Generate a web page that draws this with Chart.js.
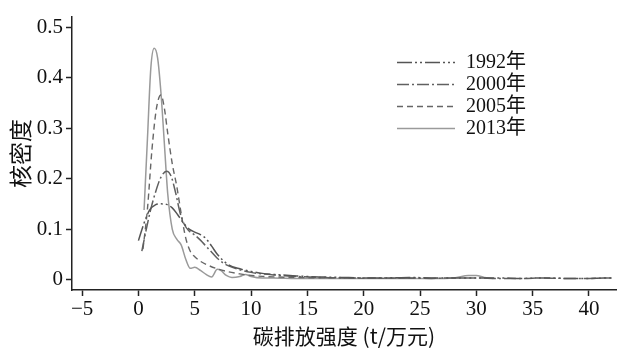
<!DOCTYPE html>
<html>
<head>
<meta charset="utf-8">
<script src="https://cdn.jsdelivr.net/npm/chart.js@4/dist/chart.umd.min.js"></script>
<style>
  html, body { margin: 0; padding: 0; background: #fff; }
  #wrap { width: 626px; height: 356px; position: relative; }
</style>
</head>
<body>
<div id="wrap"><canvas id="c" width="626" height="356"></canvas></div>
<script>
// ---- data ----
const seriesLabels = ['1992年', '2000年', '2005年', '2013年'];

const x1992 = [0, 0.5, 1, 1.5, 2, 2.5, 3, 3.5, 4, 4.5, 5, 5.5, 6, 6.5, 7, 7.5, 8, 9, 10, 11, 12, 14, 16, 18, 20, 22, 24, 26, 28, 30, 32, 34, 36, 38, 40, 42];
const y1992 = [0.077, 0.112, 0.138, 0.148, 0.150, 0.149, 0.142, 0.128, 0.112, 0.100, 0.094, 0.089, 0.081, 0.066, 0.050, 0.038, 0.029, 0.021, 0.016, 0.012, 0.010, 0.007, 0.005, 0.004, 0.003, 0.003, 0.004, 0.003, 0.003, 0.003, 0.003, 0.002, 0.003, 0.002, 0.002, 0.003];

const x2000 = [0.3, 0.7, 1.1, 1.5, 2.0, 2.5, 2.9, 3.3, 3.7, 4.1, 4.5, 5, 5.5, 6, 6.5, 7, 7.5, 8, 9, 10, 11, 12, 14, 16, 18, 20, 22, 24, 26, 28, 30, 32, 34, 36, 38, 40, 42];
const y2000 = [0.056, 0.100, 0.140, 0.172, 0.203, 0.215, 0.205, 0.172, 0.132, 0.108, 0.096, 0.088, 0.078, 0.066, 0.054, 0.042, 0.033, 0.027, 0.019, 0.014, 0.011, 0.009, 0.006, 0.004, 0.003, 0.003, 0.003, 0.003, 0.002, 0.003, 0.003, 0.002, 0.002, 0.003, 0.002, 0.002, 0.003];

const x2005 = [0.4, 0.8, 1.2, 1.6, 2.0, 2.3, 2.6, 3.0, 3.4, 3.8, 4.2, 4.6, 5, 5.5, 6, 7, 8, 9, 10, 11, 12, 14, 16, 18, 20, 22, 25];
const y2005 = [0.060, 0.140, 0.258, 0.340, 0.366, 0.340, 0.290, 0.230, 0.185, 0.130, 0.082, 0.056, 0.045, 0.036, 0.030, 0.021, 0.015, 0.011, 0.008, 0.006, 0.005, 0.004, 0.003, 0.003, 0.002, 0.002, 0.002];

const x2013 = [0.5, 0.8, 1.1, 1.4, 1.7, 2.0, 2.3, 2.6, 3.0, 3.4, 3.8, 4.2, 4.6, 5.0, 5.5, 6.0, 6.5, 7.0, 7.3, 7.8, 8.3, 9.0, 9.5, 10, 11, 12, 14, 16, 18, 20, 22, 24, 26, 28, 29.3, 30, 30.7, 31.5];
const y2013 = [0.138, 0.280, 0.420, 0.459, 0.440, 0.370, 0.270, 0.170, 0.100, 0.080, 0.068, 0.040, 0.022, 0.024, 0.018, 0.010, 0.005, 0.020, 0.018, 0.008, 0.004, 0.006, 0.010, 0.006, 0.003, 0.003, 0.002, 0.002, 0.002, 0.002, 0.002, 0.002, 0.002, 0.003, 0.008, 0.008, 0.004, 0.002];

const xTickValues = [-5, 0, 5, 10, 15, 20, 25, 30, 35, 40];
const yTickValues = [0, 0.1, 0.2, 0.3, 0.4, 0.5];

const xTitle = '碳排放强度 (t/万元)';
const yTitle = '核密度';

// ---- styling ----
const serif = "'Liberation Serif', 'Times New Roman', 'Noto Sans CJK SC', serif";
const cjk = "'Noto Sans CJK SC', 'Liberation Serif', serif";
const styles = [
  { color: '#555555', dash: [15, 3, 2, 3, 2, 3], width: 1.5 },
  { color: '#606060', dash: [12, 3, 2, 3], width: 1.5 },
  { color: '#666666', dash: [6, 4], width: 1.4 },
  { color: '#9a9a9a', dash: [], width: 1.5 }
];

const xs = [x1992, x2000, x2005, x2013];
const ys = [y1992, y2000, y2005, y2013];

const datasets = seriesLabels.map((lab, i) => ({
  label: lab,
  data: xs[i].map((v, j) => ({ x: v, y: ys[i][j] })),
  borderColor: styles[i].color,
  borderDash: styles[i].dash,
  borderWidth: styles[i].width,
  pointRadius: 0,
  fill: false,
  cubicInterpolationMode: 'monotone'
}));

// custom legend drawn with Chart.js canvas
const legendPlugin = {
  id: 'customLegend',
  afterDraw(chart) {
    const ctx = chart.ctx;
    const x0 = 397, x1 = 455, tx = 466, y0 = 62, dy = 22;
    chart.data.datasets.forEach((ds, i) => {
      const y = y0 + i * dy;
      ctx.save();
      ctx.strokeStyle = ds.borderColor;
      ctx.lineWidth = ds.borderWidth;
      ctx.setLineDash(ds.borderDash || []);
      ctx.beginPath();
      ctx.moveTo(x0, y + 0.5);
      ctx.lineTo(x1, y + 0.5);
      ctx.stroke();
      ctx.setLineDash([]);
      ctx.fillStyle = '#111';
      ctx.font = "20px " + serif;
      ctx.textBaseline = 'middle';
      ctx.textAlign = 'left';
      ctx.fillText(ds.label, tx, y + 1);
      ctx.restore();
    });
  }
};

new Chart(document.getElementById('c'), {
  type: 'line',
  data: { datasets },
  options: {
    responsive: false,
    animation: false,
    layout: { padding: { top: 17, right: 10, left: 0, bottom: 0 } },
    plugins: { legend: { display: false }, tooltip: { enabled: false } },
    scales: {
      x: {
        type: 'linear',
        min: -5.9,
        max: 42.4,
        afterBuildTicks: s => { s.ticks = xTickValues.map(v => ({ value: v })); },
        afterFit: s => { s.height = 66; },
        grid: { display: true, drawOnChartArea: false, drawTicks: true, tickLength: 6, tickWidth: 1.5, tickColor: '#222' },
        border: { display: true, color: '#222', width: 1.5 },
        ticks: {
          color: '#111', font: { family: serif, size: 21 }, padding: 1, maxRotation: 0,
          callback: v => (v < 0 ? '\u2212' + Math.abs(v) : String(v))
        },
        title: { display: true, text: xTitle, color: '#111', font: { family: cjk, size: 21 }, padding: { top: 0, bottom: 7 } }
      },
      y: {
        type: 'linear',
        min: -0.021,
        max: 0.521,
        afterBuildTicks: s => { s.ticks = yTickValues.map(v => ({ value: v })); },
        afterFit: s => { s.width = 72; },
        grid: { display: true, drawOnChartArea: false, drawTicks: true, tickLength: 6, tickWidth: 1.5, tickColor: '#222' },
        border: { display: true, color: '#222', width: 1.5 },
        ticks: {
          color: '#111', font: { family: serif, size: 21 }, padding: 3,
          callback: v => String(Math.round(v * 10) / 10)
        },
        title: { display: true, text: yTitle, color: '#111', font: { family: cjk, size: 23 }, padding: { top: 6, bottom: 0 } }
      }
    }
  },
  plugins: [legendPlugin]
});
</script>
</body>
</html>
